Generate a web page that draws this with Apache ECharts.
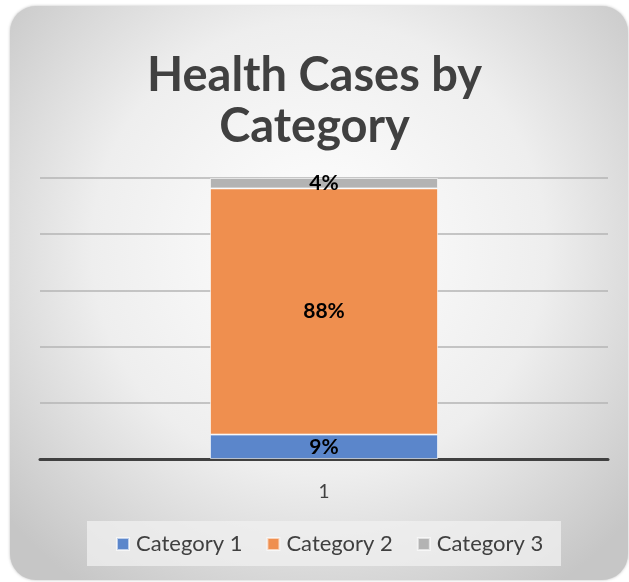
<!DOCTYPE html>
<html>
<head>
<meta charset="utf-8">
<style>
  html, body { margin: 0; padding: 0; background: #fff; }
  #chart { width: 629px; height: 582px; }
</style>
<script src="https://cdn.jsdelivr.net/npm/echarts@6/dist/echarts.min.js"></script>
</head>
<body>
<div id="chart"></div>
<script>
// data (share of cases, %)
var categories = ['1'];
var seriesNames = ['Category 1', 'Category 2', 'Category 3'];
var cat1Values = [8.7];
var cat2Values = [87.6];
var cat3Values = [3.7];
var colors = ['#5b86cb', '#ef8f4f', '#b3b3b3'];

var myChart = echarts.init(document.getElementById('chart'));

function makeSeries(name, values, color){
    return {
        name: name,
        type: 'bar',
        stack: 'total',
        barWidth: 228,
        data: values,
        itemStyle: {
            color: color,
            borderColor: 'rgba(255,255,255,0.6)',
            borderWidth: 1
        },
        label: {
            show: true,
            position: 'inside',
            color: '#000',
            fontFamily: 'Lato',
            fontWeight: 'bold',
            fontSize: 21,
            formatter: function(p){ return Math.round(p.value) + '%' }
        }
    }
}

var option = {
    animation: false,
    graphic: [
        {
            type: 'rect',
            z: -10,
            shape: { x: 10, y: 6, width: 618, height: 574, r: 26 },
            style: {
                fill: new echarts.graphic.RadialGradient(0.5, 0.42, 0.72, [
                    { offset: 0, color: '#ffffff' },
                    { offset: 0.55, color: '#eeeeee' },
                    { offset: 1, color: '#c6c6c6' }
                ]),
                shadowBlur: 3,
                shadowColor: 'rgba(0,0,0,0.25)'
            }
        },
        {
            type: 'rect',
            z: -5,
            shape: { x: 87, y: 521, width: 474, height: 45 },
            style: { fill: 'rgba(240,240,240,0.75)' }
        }
    ],
    title: {
        text: 'Health Cases by\nCategory',
        left: 'center',
        top: 45,
        textStyle: {
            fontFamily: 'Lato',
            fontWeight: 'bold',
            fontSize: 47,
            lineHeight: 51,
            color: '#404040'
        }
    },
    legend: {
        data: seriesNames,
        left: 111,
        top: 528,
        icon: 'rect',
        itemWidth: 12,
        itemHeight: 12,
        itemGap: 24,
        textStyle: {
            fontFamily: 'Lato',
            fontSize: 22,
            color: '#404040',
            padding: [0, 0, 0, 2]
        }
    },
    grid: {
        left: 40,
        right: 21,
        top: 178,
        bottom: 123
    },
    xAxis: {
        type: 'category',
        data: categories,
        axisTick: { show: false },
        axisLine: { lineStyle: { color: '#404040', width: 3 } },
        axisLabel: {
            margin: 23,
            fontFamily: 'Lato',
            fontSize: 19,
            color: '#404040'
        }
    },
    yAxis: {
        type: 'value',
        min: 0,
        max: 100,
        interval: 20,
        axisLabel: { show: false },
        axisLine: { show: false },
        axisTick: { show: false },
        splitLine: { lineStyle: { color: '#b4b4b4', width: 1.5 } }
    },
    series: [
        makeSeries(seriesNames[0], cat1Values, colors[0]),
        makeSeries(seriesNames[1], cat2Values, colors[1]),
        makeSeries(seriesNames[2], cat3Values, colors[2])
    ]
};
myChart.setOption(option);
</script>
</body>
</html>
